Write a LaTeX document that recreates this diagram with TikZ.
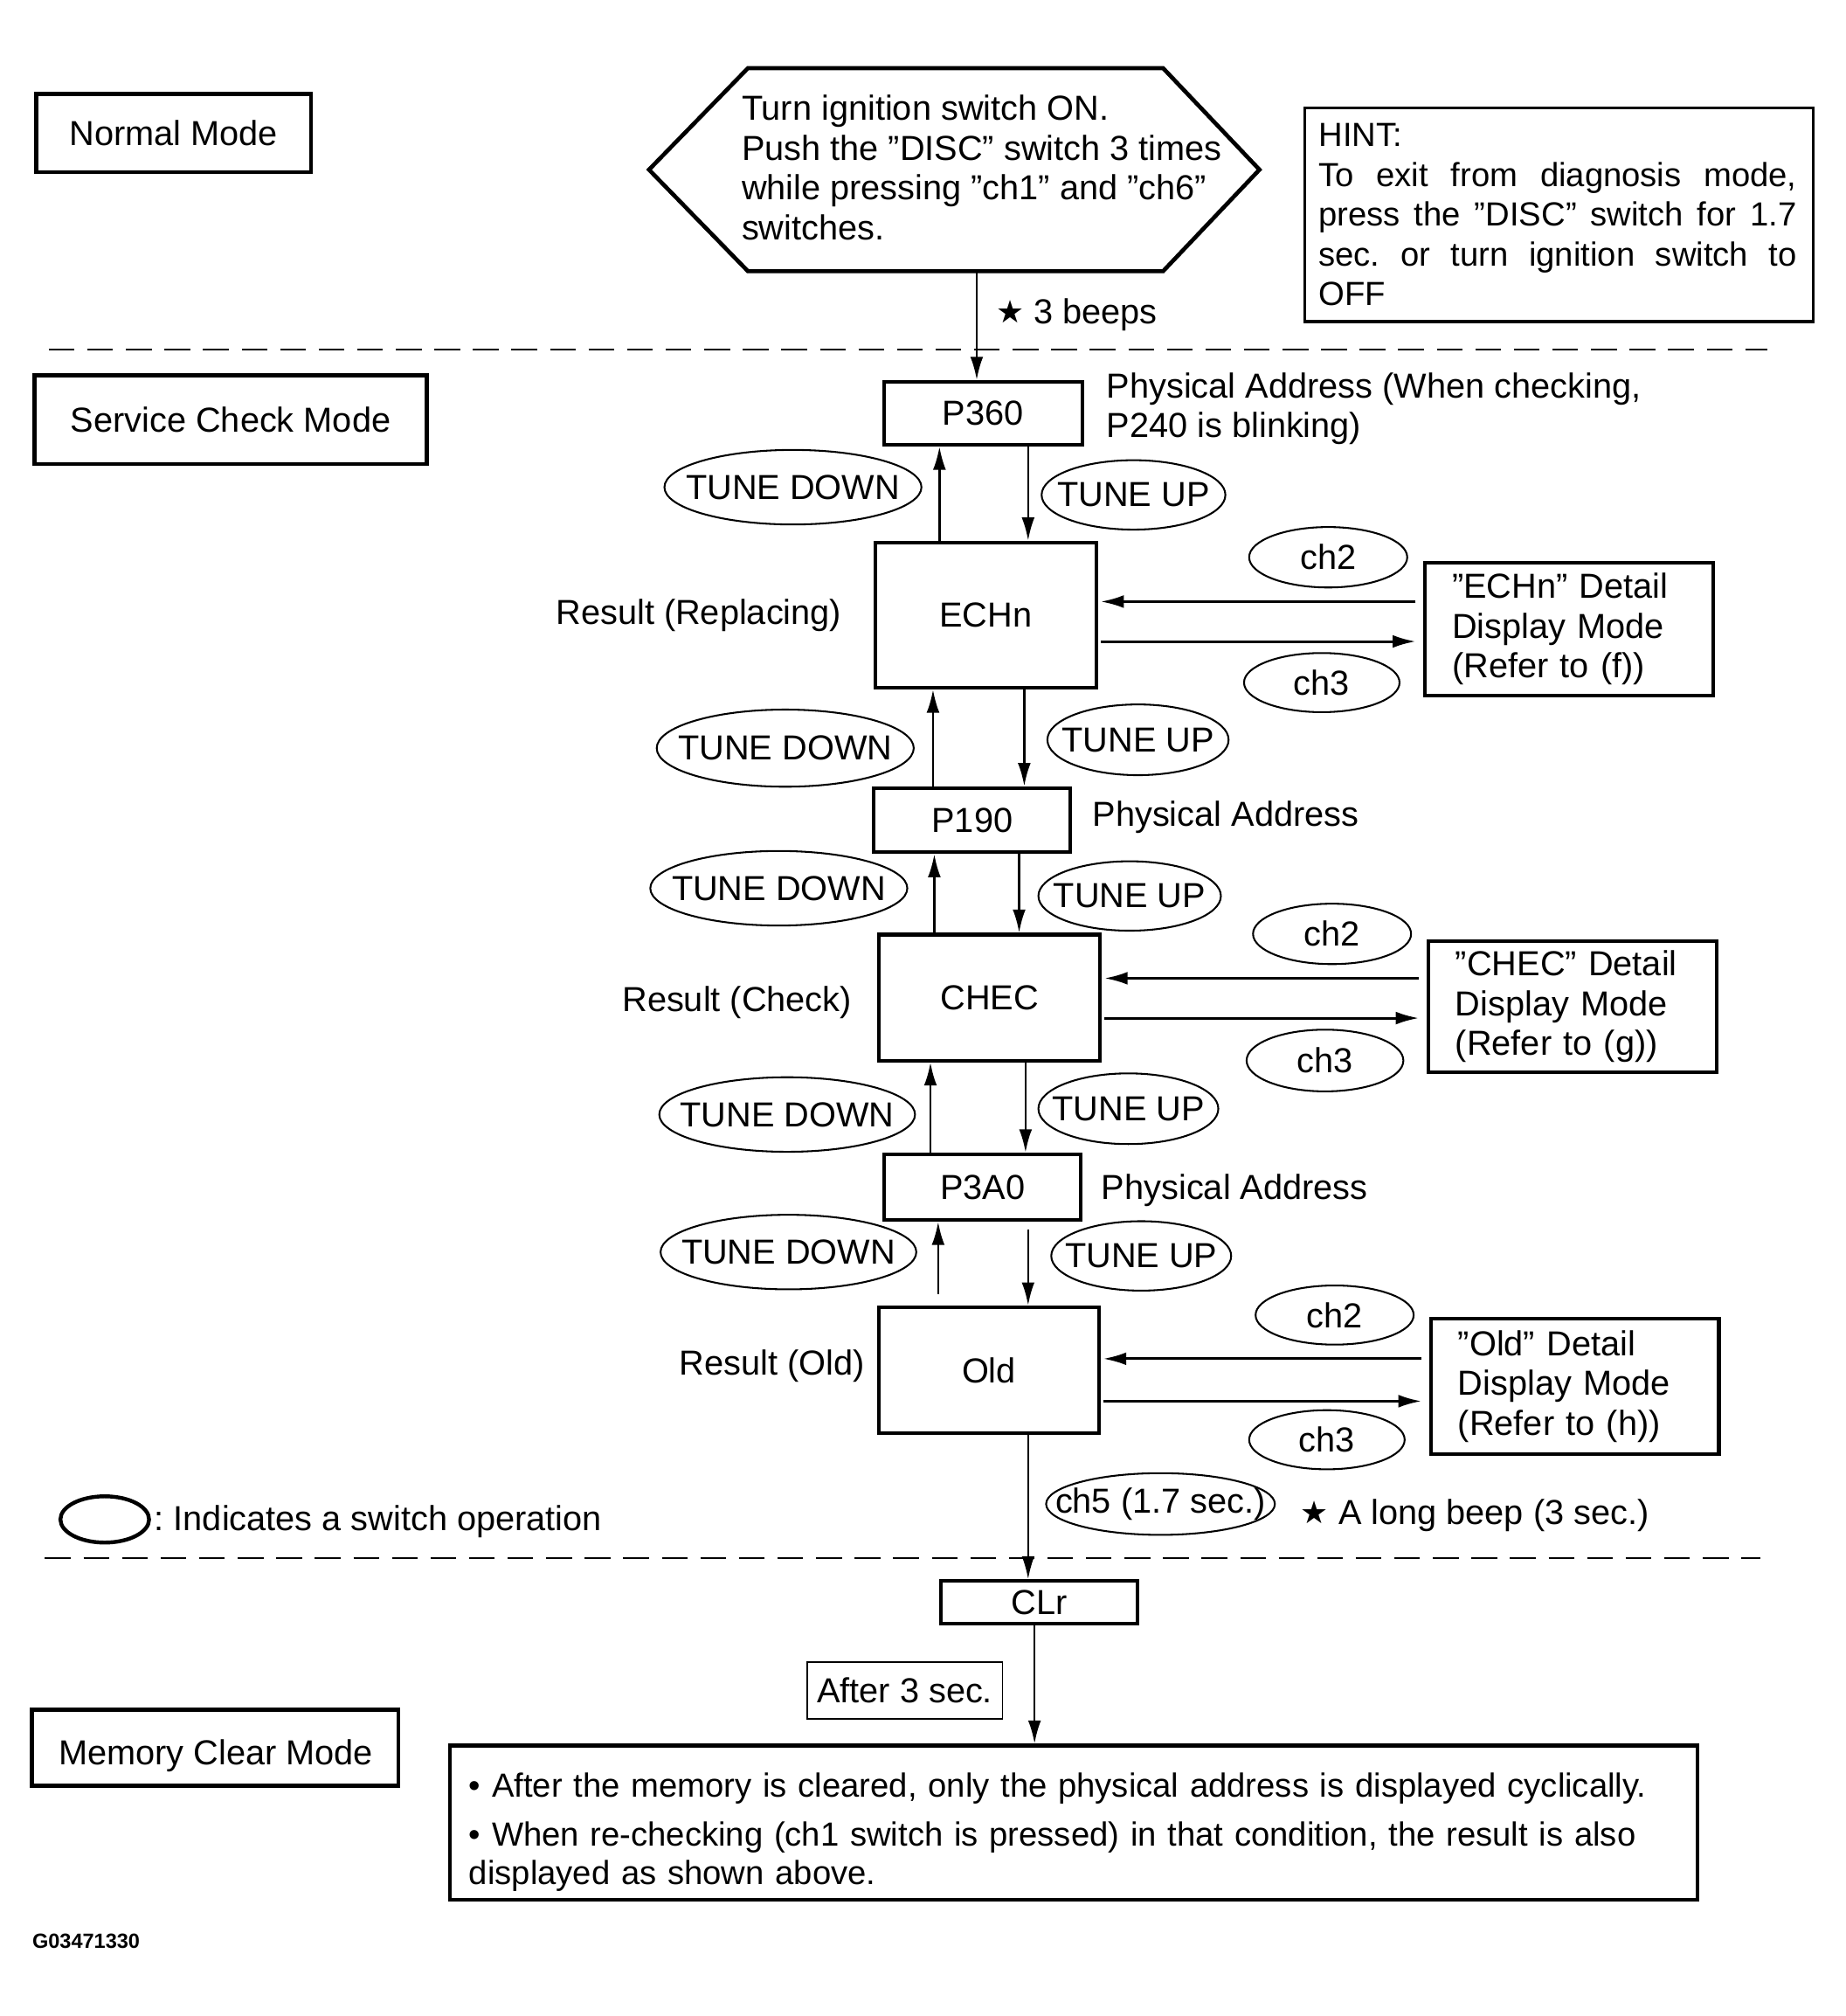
\documentclass[tikz,border=0pt]{standalone}
\usepackage{fontspec}
\setmainfont{Liberation Sans}
\newfontfamily\symfont{DejaVu Sans}
\usetikzlibrary{arrows.meta,shapes.geometric}
\newcommand\zb[1]{\makebox[0pt]{#1}}
\newcommand\str{{\symfont\raisebox{0.5pt}{\scalebox{0.9}{★}}}}
\newcommand\jl[1]{\makebox[372pt][s]{\spaceskip=.28em plus 1fil\xspaceskip=.28em plus 1fil\relax #1}}
\begin{document}
\begin{tikzpicture}[x=1pt,y=-1pt,
  every node/.style={font=\fontsize{27}{31}\selectfont\frenchspacing, inner sep=0pt},
  mode/.style={draw, line width=3.2pt},
  bx/.style={draw, line width=2.8pt},
  det/.style={draw, line width=2.8pt, text width=182pt, inner xsep=21pt, align=left},
  sw/.style={ellipse, draw, line width=1.4pt, inner sep=0pt},
  arr/.style={line width=1.7pt, -{Latex[length=18pt,width=10pt]}},
  harr/.style={line width=2pt, -{Latex[length=18pt,width=10pt]}},
  sep/.style={line width=1.5pt, dash pattern=on 20pt off 10pt}
]
\fill[white] (0,0) rectangle (1436.4,1568.3);
\useasboundingbox (0,0) rectangle (1436.4,1568.3);

% mode labels
\node[mode, minimum width=214pt, minimum height=61pt] (normal) at (135,103.5) {Normal Mode};
\node[mode, minimum width=305pt, minimum height=69pt] (scm) at (179.5,326.5) {Service Check Mode};
\node[mode, minimum width=285pt, minimum height=59pt] (mcm) at (167.5,1359.5) {};
\node (mcmt) at (168,1366) {Memory Clear Mode};

% hexagon
\draw[line width=3.2pt, line join=miter] (505,132) -- (582,53) -- (905,53) -- (980,132) -- (905,211) -- (582,211) -- cycle;
\node[anchor=west, align=left] (hext) at (577,130.5) {Turn ignition switch ON.\\Push the ”DISC” switch 3 times\\while pressing ”ch1” and ”ch6”\\switches.};
\coordinate (hexb) at (760,211);

% hint
\node[draw, line width=2.2pt, minimum height=166pt, text width=374pt, inner xsep=11pt, align=left, anchor=north west,
      font=\fontsize{26}{31}\selectfont\frenchspacing] (hint) at (1014,83)
  {HINT:\\\jl{To exit from diagnosis mode,}\\\jl{press the ”DISC” switch for 1.7}\\\jl{sec. or turn ignition switch to}\\OFF};

% separators
\draw[sep] (38,272) -- (1375,272);
\draw[sep] (35,1212) -- (1370,1212);

% main boxes
\node[bx, minimum width=154pt, minimum height=49pt] (p360) at (765,321.5) {P360};
\node[bx, minimum width=172pt, minimum height=113pt] (echn) at (767,478.5) {ECHn};
\node[bx, minimum width=153pt, minimum height=50pt] (p190) at (756.5,638) {P190};
\node[bx, minimum width=172pt, minimum height=98pt] (chec) at (770,776) {CHEC};
\node[bx, minimum width=153pt, minimum height=51pt] (p3a0) at (764.5,923.5) {P3A0};
\node[bx, minimum width=171pt, minimum height=98pt] (old) at (769.5,1066) {Old};
\node[bx, minimum width=153pt, minimum height=33pt] (clr) at (808.5,1246.5) {CLr};
\node[draw, line width=1pt, minimum width=152pt, minimum height=44pt] (after) at (704,1315) {After 3 sec.};
\node[draw, line width=3pt, minimum height=120pt, text width=941pt, inner xsep=15pt, align=left, font=\fontsize{26}{30}\selectfont\frenchspacing] (big) at (835.5,1418)
  {\rule{0pt}{34pt}• After the memory is cleared, only the physical address is displayed cyclically.\\[8pt]• When re-checking (ch1 switch is pressed) in that condition, the result is also\\displayed as shown above.};

% detail boxes
\node[det, minimum height=103pt] (echnD) at (1221,489.5) {”ECHn” Detail\\Display Mode\\(Refer to (f))};
\node[det, minimum height=102pt] (checD) at (1223.5,783) {”CHEC” Detail\\Display Mode\\(Refer to (g))};
\node[det, minimum height=105pt] (oldD) at (1225.5,1078.5) {”Old” Detail\\Display Mode\\(Refer to (h))};

% side labels
\node[anchor=west] (beeps) at (775,245) {\str\ 3 beeps};
\node[anchor=west, align=left] (pa1) at (861,318) {Physical Address (When checking,\\P240 is blinking)};
\node[anchor=east] (rr) at (655,479) {Result (Replacing)};
\node[anchor=west] (pa2) at (850,636) {Physical Address};
\node[anchor=east] (rc) at (663,780) {Result (Check)};
\node[anchor=west] (pa3) at (857,926) {Physical Address};
\node[anchor=east] (ro) at (673,1063) {Result (Old)};
\node[anchor=west] (lb) at (1012,1179) {\str\ A long beep (3 sec.)};
\node[anchor=west] (legt) at (120,1184) {: Indicates a switch operation};
\node[anchor=west, font=\fontsize{16}{19}\selectfont\bfseries] (code) at (25,1510) {G03471330};

% switch ellipses
\node[sw, minimum width=200pt, minimum height=58pt] (td1) at (617,379) {\zb{TUNE DOWN}};
\node[sw, minimum width=143pt, minimum height=54pt] (tu1) at (882,385) {\zb{TUNE UP}};
\node[sw, minimum width=123pt, minimum height=47pt] (c2a) at (1033.5,433.5) {\zb{ch2}};
\node[sw, minimum width=121pt, minimum height=46pt] (c3a) at (1028.5,531) {\zb{ch3}};
\node[sw, minimum width=200pt, minimum height=60pt] (td2) at (611,582) {\zb{TUNE DOWN}};
\node[sw, minimum width=141pt, minimum height=55pt] (tu2) at (885.5,575.5) {\zb{TUNE UP}};
\node[sw, minimum width=200pt, minimum height=58pt] (td3) at (606,691) {\zb{TUNE DOWN}};
\node[sw, minimum width=142pt, minimum height=54pt] (tu3) at (879,697) {\zb{TUNE UP}};
\node[sw, minimum width=123pt, minimum height=47pt] (c2b) at (1036.5,726.5) {\zb{ch2}};
\node[sw, minimum width=122pt, minimum height=48pt] (c3b) at (1031,825) {\zb{ch3}};
\node[sw, minimum width=199pt, minimum height=58pt] (td4) at (612.5,867) {\zb{TUNE DOWN}};
\node[sw, minimum width=140pt, minimum height=55pt] (tu4) at (878,862.5) {\zb{TUNE UP}};
\node[sw, minimum width=199pt, minimum height=58pt] (td5) at (613.5,974) {\zb{TUNE DOWN}};
\node[sw, minimum width=140pt, minimum height=54pt] (tu5) at (888,977) {\zb{TUNE UP}};
\node[sw, minimum width=123pt, minimum height=46pt] (c2c) at (1038.5,1023) {\zb{ch2}};
\node[sw, minimum width=121pt, minimum height=46pt] (c3c) at (1032.5,1120) {\zb{ch3}};
\node[sw, minimum width=178pt, minimum height=48pt] (ch5) at (903,1170) {\zb{ch5 (1.7 sec.)}};
\node[ellipse, draw, line width=3pt, minimum width=69pt, minimum height=36pt] (leg) at (81.5,1182) {};

% column / row helper coordinates
\coordinate (c1u) at (731,0);  \coordinate (c1d) at (800,0);
\coordinate (c2u) at (726,0);  \coordinate (c2d) at (797,0);
\coordinate (c3u) at (727,0);  \coordinate (c3d) at (793,0);
\coordinate (c4u) at (724,0);  \coordinate (c4d) at (798,0);
\coordinate (c5u) at (730,0);  \coordinate (c5d) at (800,0);
\coordinate (c7) at (805,0);
\coordinate (ya1) at (0,468);  \coordinate (yb1) at (0,499);
\coordinate (ya2) at (0,761);  \coordinate (yb2) at (0,792);
\coordinate (ya3) at (0,1057); \coordinate (yb3) at (0,1090);

% vertical connectors
\draw[arr] (hexb) -- (p360.north -| hexb);
\draw[arr] (echn.north -| c1u) -- (p360.south -| c1u);
\draw[arr] (p360.south -| c1d) -- (echn.north -| c1d);
\draw[arr] (p190.north -| c2u) -- (echn.south -| c2u);
\draw[arr] (echn.south -| c2d) -- (p190.north -| c2d);
\draw[arr] (chec.north -| c3u) -- (p190.south -| c3u);
\draw[arr] (p190.south -| c3d) -- (chec.north -| c3d);
\draw[arr] (p3a0.north -| c4u) -- (chec.south -| c4u);
\draw[arr] (chec.south -| c4d) -- (p3a0.north -| c4d);
\draw[arr, shorten <=9pt] (old.north -| c5u) -- (p3a0.south -| c5u);
\draw[arr, shorten <=6pt] (p3a0.south -| c5d) -- (old.north -| c5d);
\draw[arr] (old.south -| c5d) -- (clr.north -| c5d);
\draw[arr] (clr.south -| c7) -- (big.north -| c7);

% horizontal connectors
\draw[harr, shorten <=6pt, shorten >=2pt] (echnD.west |- ya1) -- (echn.east |- ya1);
\draw[harr, shorten <=2pt, shorten >=6pt] (echn.east |- yb1) -- (echnD.west |- yb1);
\draw[harr, shorten <=6pt, shorten >=2pt] (checD.west |- ya2) -- (chec.east |- ya2);
\draw[harr, shorten <=2pt, shorten >=6pt] (chec.east |- yb2) -- (checD.west |- yb2);
\draw[harr, shorten <=6pt, shorten >=2pt] (oldD.west |- ya3) -- (old.east |- ya3);
\draw[harr, shorten <=2pt, shorten >=6pt] (old.east |- yb3) -- (oldD.west |- yb3);
\end{tikzpicture}
\end{document}
